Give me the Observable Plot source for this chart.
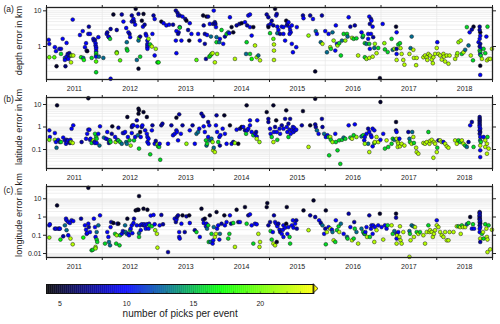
<!DOCTYPE html>
<html><head><meta charset="utf-8">
<script src="https://cdn.jsdelivr.net/npm/d3@7"></script>
<script src="https://cdn.jsdelivr.net/npm/@observablehq/plot@0.6"></script>
<style>
html,body{margin:0;padding:0;background:#fff;}
#chart{width:500px;height:324px;position:relative;}
#chart svg{display:block;overflow:visible;background:transparent;}
</style></head><body><div id="chart"></div>
<script>
// ---- data: [decimal year, error in km, number of picks] ----
const yearTicks = [2011,2012,2013,2014,2015,2016,2017,2018,2019];
const yearLabels = ["2011","2012","2013","2014","2015","2016","2017","2018"];
const pickLabels = [5,10,15,20];
const panelTitles = ["depth error in km","latitude error in km","longitude error in km"];
const panelLetters = ["(a)","(b)","(c)"];

const depthErr = [
[2011.04,1.54,10],[2011.05,1.19,10],[2011.05,0.50,20],[2011.14,0.50,19],
[2011.15,0.96,10],[2011.17,0.74,10],[2011.18,0.28,5],[2011.23,0.86,10],[2011.26,0.86,9],[2011.26,0.62,16],[2011.29,1.64,10],
[2011.33,0.48,13],[2011.33,0.42,10],[2011.34,0.28,7],[2011.36,1.26,10],[2011.36,0.52,10],[2011.38,0.62,10],[2011.39,0.6,10],[2011.41,0.65,8],[2011.42,0.56,10],[2011.43,0.56,11],[2011.44,0.36,22],[2011.45,0.56,21],[2011.47,5.7,10],[2011.48,0.56,22],[2011.39,0.45,10],
[2011.60,2.1,10],[2011.62,0.50,17],[2011.65,2.7,10],[2011.66,0.48,13],[2011.67,0.42,17],
[2011.69,0.96,10],[2011.71,1.24,10],[2011.72,0.77,8],[2011.73,0.74,5],[2011.75,2.26,10],[2011.76,3.6,8],[2011.78,2.26,10],[2011.81,0.48,16],
[2011.84,1.64,10],[2011.85,1.47,10],[2011.87,1.54,8],[2011.88,1.24,10],[2011.88,1.07,10],[2011.89,0.96,10],[2011.89,0.86,10],[2011.89,0.74,10],[2011.89,0.65,16],[2011.89,0.56,16],[2011.89,0.52,10],[2011.89,0.38,19],[2011.89,0.19,16],
[2011.93,1.83,10],[2011.94,0.52,13],
[2012.02,0.48,13],[2012.08,2.26,10],[2012.09,2.5,8],[2012.11,1.9,10],[2012.12,1.83,10],[2012.14,1.64,16],[2012.15,3.1,8],[2012.15,0.125,10],
[2012.20,7.9,5],[2012.26,2.9,8],[2012.26,0.69,19],[2012.26,0.65,21],[2012.32,0.41,19],[2012.35,7.9,8],[2012.38,5.0,10],[2012.43,3.3,10],
[2012.44,1.32,13],[2012.44,0.86,16],[2012.45,0.77,16],[2012.47,2.5,10],[2012.49,2.26,8],[2012.50,1.83,10],[2012.53,5.0,10],[2012.53,7.4,8],[2012.55,5.3,10],[2012.56,5.9,10],[2012.57,5.0,8],[2012.59,4.1,10],[2012.60,11.4,5],[2012.62,0.42,13],[2012.65,8.2,8],[2012.65,1.47,13],[2012.66,1.75,19],[2012.68,0.52,16],[2012.65,0.24,5],[2012.68,1.9,8],[2012.71,5.3,5],[2012.74,8.2,5],[2012.73,3.6,10],[2012.76,4.1,8],[2012.78,2.26,10],[2012.79,2.03,10],[2012.81,1.47,10],[2012.81,1.19,10],[2012.81,1.07,10],[2012.81,0.96,10],[2012.81,0.86,10],[2012.83,1.64,21],[2012.86,1.14,16],[2012.89,1.0,22],[2012.90,2.26,10],[2012.92,7.4,8],[2012.94,5.9,10],[2012.94,0.56,10],[2012.96,0.86,21],[2012.99,0.36,16],[2013.01,0.36,17],
[2013.06,5.0,5],[2013.10,4.5,10],[2013.15,3.9,10],[2013.20,4.1,10],[2013.27,4.1,8],
[2013.32,10.2,8],[2013.35,8.8,8],[2013.36,7.4,10],[2013.39,7.4,8],[2013.37,2.5,10],[2013.39,3.5,10],[2013.33,2.7,10],[2013.36,2.26,8],[2013.32,1.47,10],[2013.33,0.65,10],[2013.39,3.4,16],[2013.42,1.47,10],[2013.44,6.9,10],
[2013.49,5.9,8],[2013.51,5.3,5],[2013.54,2.9,8],[2013.57,4.5,10],[2013.56,1.47,5],[2013.60,2.26,10],
[2013.69,0.42,19],[2013.72,2.26,10],[2013.75,1.47,10],[2013.81,7.4,5],[2013.82,3.9,8],[2013.84,2.26,8],[2013.84,1.19,8],[2013.86,0.45,8],
[2013.87,6.9,5],[2013.88,2.1,10],[2013.90,6.9,8],[2013.93,4.3,10],[2013.92,0.52,16],[2013.94,0.56,17],[2013.96,0.62,19],[2013.98,0.65,22],[2013.95,1.9,13],
[2013.99,4.3,8],[2014.00,10.2,10],[2014.02,4.8,8],[2014.03,4.3,8],[2014.04,3.5,10],[2014.05,1.83,13],[2014.05,1.32,16],[2014.06,0.62,21],[2014.02,0.36,22],[2014.10,1.32,13],[2014.11,1.64,10],[2014.14,2.9,16],[2014.17,1.19,10],[2014.20,1.9,8],[2014.23,2.26,16],[2014.26,2.5,13],[2014.28,2.36,10],[2014.29,6.6,10],[2014.32,3.5,5],[2014.35,2.5,5],[2014.38,0.45,22],[2014.41,3.9,8],[2014.46,4.3,8],[2014.50,4.5,5],[2014.56,4.8,10],[2014.58,0.62,13],[2014.59,1.32,16],[2014.60,3.9,8],[2014.62,7.4,10],
[2014.65,7.9,10],[2014.65,3.5,10],[2014.68,2.03,10],[2014.71,3.5,5],[2014.74,1.07,22],[2014.65,0.62,16],[2014.68,0.45,17],[2014.77,0.5,21],[2014.80,0.56,13],[2014.83,0.41,22],
[2014.95,7.9,8],[2014.98,6.6,8],[2014.98,3.9,10],[2015.01,2.36,16],[2015.02,4.3,10],[2014.98,3.5,5],[2015.04,5.3,8],[2015.07,3.9,8],[2015.07,1.64,19],[2015.08,1.14,22],[2015.08,0.77,22],[2015.08,0.42,22],[2015.10,11.4,5],[2015.12,7.4,10],[2015.13,8.2,8],[2015.14,3.6,10],[2015.14,2.36,13],[2015.16,2.9,10],[2015.19,2.26,8],[2015.22,3.6,10],[2015.25,2.26,10],[2015.25,3.5,10],[2015.28,1.47,10],[2015.30,5.3,5],[2015.31,3.9,10],[2015.32,4.3,8],
[2015.34,4.8,10],[2015.36,3.5,10],[2015.37,2.9,10],[2015.38,2.5,10],[2015.40,3.9,10],[2015.36,2.26,10],[2015.40,1.19,10],[2015.42,0.69,10],[2015.48,0.96,10],[2015.49,3.5,10],
[2015.60,7.4,8],[2015.61,6.2,10],[2015.73,7.4,8],[2015.78,5.9,10],[2015.82,0.2,5],[2015.70,2.03,21],[2015.83,2.7,13],[2015.85,2.26,10],[2015.92,1.32,13],[2015.94,7.4,8],[2015.95,1.19,22],[2016.00,2.7,10],[2016.03,0.69,13],[2016.06,2.26,10],[2016.09,0.96,22],[2016.10,0.86,16],[2016.13,2.5,13],[2016.15,1.47,21],[2016.18,0.77,10],[2016.19,3.9,10],[2016.21,1.19,10],[2016.22,1.07,21],[2016.25,1.24,16],[2016.28,0.56,16],[2016.30,1.47,13],[2016.33,2.26,16],[2016.36,1.47,21],[2016.39,2.26,16],[2016.40,1.9,13],[2016.42,6.6,10],[2016.45,3.6,8],[2016.48,1.75,21],[2016.51,1.64,16],[2016.53,3.9,8],[2016.56,1.7,16],[2016.59,0.56,22],
[2016.65,2.5,10],[2016.67,1.83,13],[2016.68,2.03,16],[2016.71,1.24,16],[2016.74,1.19,13],[2016.77,1.64,10],[2016.79,6.9,10],[2016.80,4.3,8],[2016.82,5.9,8],[2016.83,5.3,10],[2016.85,3.6,10],[2016.77,2.26,10],[2016.82,2.26,10],[2016.86,1.83,8],[2016.88,0.91,13],[2016.89,1.19,21],[2016.79,1.19,16],[2016.80,0.86,10],[2016.71,0.5,16],[2016.74,0.45,21],[2016.79,0.48,22],[2016.85,0.52,22],[2016.92,0.65,22],[2016.95,0.91,16],
[2016.98,0.13,5],[2017.03,4.3,10],[2017.06,1.24,21],[2017.07,0.83,16],[2017.12,0.7,16],[2017.19,1.64,16],[2017.21,0.81,13],[2017.24,0.86,21],[2017.27,3.6,5],[2017.28,2.5,10],[2017.28,0.86,8],[2017.28,0.62,10],[2017.28,0.42,22],[2017.31,1.14,16],[2017.34,1.24,16],[2017.35,0.9,22],[2017.37,0.62,22],[2017.40,0.42,22],[2017.42,0.31,22],
[2017.51,0.62,22],[2017.53,0.9,13],[2017.55,1.9,13],[2017.58,0.81,22],[2017.59,0.48,22],[2017.63,0.3,22],[2017.64,0.48,22],
[2017.76,0.5,22],[2017.79,0.56,22],[2017.82,0.5,22],[2017.83,0.42,22],[2017.85,0.62,22],[2017.88,0.56,22],[2017.91,0.43,22],[2017.93,0.34,22],[2017.94,0.5,22],[2017.97,0.62,22],[2018.00,0.91,22],[2018.01,1.32,10],[2018.03,0.62,22],[2018.06,0.56,22],[2018.09,0.43,22],[2018.12,0.62,22],[2018.13,0.52,22],[2018.15,0.38,22],[2018.18,0.56,22],[2018.21,0.33,22],[2018.23,0.56,22],
[2018.33,0.45,22],[2018.36,0.56,22],[2018.37,0.65,21],[2018.39,1.32,21],[2018.43,1.47,22],[2018.45,0.62,16],[2018.48,0.69,22],[2018.51,0.81,13],[2018.54,3.5,16],[2018.57,1.07,13],[2018.59,2.5,10],[2018.61,0.56,22],[2018.65,0.41,16],[2018.66,3.6,5],[2018.63,3.0,8],
[2018.77,3.6,8],[2018.78,2.5,5],[2018.77,2.9,8],[2018.78,2.0,10],[2018.77,1.64,10],[2018.75,1.32,10],[2018.78,1.19,8],[2018.77,1.0,8],[2018.79,0.86,10],[2018.77,0.77,16],[2018.78,0.69,16],[2018.78,0.6,10],[2018.79,0.56,16],[2018.81,0.45,22],[2018.78,0.29,5],[2018.78,0.16,10],[2018.84,0.86,16],[2018.87,0.65,16],[2018.89,1.9,10],[2018.91,3.6,16],[2018.90,0.41,22],[2018.93,0.45,22],[2018.96,0.45,22],[2018.99,0.86,22]
];

const latErr = [
[2011.05,0.71,10],[2011.06,0.36,10],[2011.05,0.27,20],[2011.15,0.54,10],[2011.15,0.27,21],[2011.17,0.215,10],[2011.18,0.12,13],[2011.19,9.2,5],[2011.21,0.27,10],[2011.24,0.215,8],[2011.26,0.215,16],[2011.30,0.34,10],[2011.33,0.255,10],[2011.35,0.18,10],[2011.36,0.27,8],[2011.37,0.215,10],[2011.39,0.255,10],[2011.42,0.195,8],[2011.43,0.27,10],[2011.44,0.215,21],[2011.45,0.84,10],[2011.48,1.19,10],[2011.47,0.195,22],
[2011.63,0.215,8],[2011.71,0.3,10],[2011.73,0.5,10],[2011.75,0.76,10],[2011.75,19,5],[2011.77,0.76,10],[2011.78,0.27,10],[2011.79,0.3,10],[2011.81,0.195,16],[2011.84,0.255,21],[2011.86,0.215,10],[2011.87,0.5,16],[2011.89,0.36,16],[2011.87,0.195,10],[2011.90,0.3,16],[2011.90,0.195,10],[2011.93,0.5,10],[2011.95,0.15,13],[2011.96,1.07,10],
[2012.03,0.34,13],[2012.07,0.3,10],[2012.09,0.6,10],[2012.11,0.27,10],[2012.12,0.195,8],[2012.14,0.255,16],[2012.15,0.215,16],[2012.17,0.5,8],[2012.18,1.07,5],[2012.23,0.36,10],[2012.24,0.215,21],[2012.27,0.27,10],[2012.29,0.255,16],[2012.29,0.93,8],[2012.32,0.215,16],[2012.35,0.18,13],[2012.37,0.54,10],[2012.39,0.54,10],[2012.41,0.6,10],[2012.43,0.215,13],[2012.44,0.18,13],[2012.45,2.78,5],[2012.46,0.36,10],[2012.49,0.255,16],[2012.51,0.15,21],[2012.53,0.54,10],[2012.53,1.0,8],[2012.54,1.19,8],[2012.56,1.19,10],[2012.57,0.255,16],[2012.59,0.36,10],[2012.62,1.98,8],[2012.63,1.07,10],[2012.64,0.43,13],[2012.65,6.5,5],[2012.65,3.9,5],[2012.66,5.5,5],[2012.66,0.11,16],[2012.68,0.6,5],[2012.69,0.36,10],[2012.71,1.0,8],[2012.72,1.19,10],[2012.74,4.6,5],[2012.77,0.71,10],[2012.80,2.78,5],[2012.80,0.5,10],[2012.81,0.36,10],[2012.81,0.215,10],[2012.83,0.3,10],[2012.83,0.18,10],[2012.86,0.061,16],[2012.89,0.71,10],[2012.90,1.19,8],[2012.94,0.18,10],[2012.96,0.24,8],[2012.99,0.17,21],[2013.00,0.138,16],[2013.02,0.13,16],[2013.03,0.18,10],[2013.04,0.035,16],[2013.06,1.19,8],[2013.08,1.41,8],
[2013.18,0.18,10],[2013.24,1.19,8],[2013.27,0.43,10],[2013.30,0.5,10],[2013.33,0.71,10],[2013.34,0.6,10],[2013.36,0.255,10],[2013.33,2.6,5],[2013.38,3.66,8],[2013.41,0.5,10],[2013.44,1.19,8],[2013.51,0.18,21],[2013.57,0.71,10],[2013.62,1.19,8],[2013.66,0.18,10],[2013.69,0.5,13],[2013.72,0.6,13],[2013.74,0.84,10],
[2013.78,3.9,8],[2013.81,3.0,8],[2013.82,1.07,10],[2013.84,0.6,10],[2013.86,0.255,16],[2013.87,0.15,13],[2013.88,0.18,16],[2013.90,0.36,10],[2013.90,1.67,8],[2013.92,1.19,10],[2013.93,0.255,13],[2013.96,0.3,13],[2013.98,0.215,21],[2013.99,0.092,22],[2014.00,0.12,13],[2014.02,0.077,22],[2014.04,1.19,10],[2014.05,3.3,8],[2014.06,0.6,10],[2014.08,0.215,16],[2014.10,0.36,10],[2014.11,0.15,8],[2014.12,0.43,10],[2014.16,0.84,10],[2014.19,3.3,5],[2014.20,0.5,10],[2014.23,0.18,10],[2014.29,1.19,5],[2014.32,0.18,10],[2014.35,0.215,8],[2014.38,0.195,21],[2014.41,0.76,10],[2014.44,0.18,5],[2014.47,0.84,8],[2014.50,1.0,5],[2014.53,1.0,10],[2014.56,0.71,8],[2014.58,0.5,16],[2014.60,0.71,10],[2014.62,0.84,10],[2014.59,9.2,5],
[2014.65,1.98,10],[2014.65,1.19,10],[2014.68,0.6,10],[2014.71,0.43,16],[2014.74,0.5,10],[2014.77,0.38,10],[2014.77,0.3,22],[2014.78,1.98,10],[2014.82,0.215,21],[2014.76,0.6,8],
[2014.95,4.6,5],[2014.98,2.3,8],[2014.98,1.67,8],[2015.01,0.84,10],[2015.02,0.5,10],[2015.04,0.36,16],[2015.07,0.215,22],[2015.07,9.2,5],[2015.08,0.6,10],[2015.10,1.0,8],[2015.12,1.98,5],[2015.13,0.6,10],[2015.14,0.27,16],[2015.18,0.84,10],[2015.19,0.5,10],[2015.22,1.19,8],[2015.25,0.84,10],[2015.28,2.3,8],[2015.30,5.5,5],[2015.31,1.0,10],[2015.32,0.6,10],[2015.34,1.41,8],[2015.34,0.36,16],[2015.36,0.76,10],[2015.37,2.3,8],[2015.38,0.5,10],[2015.40,0.71,10],[2015.42,1.0,10],[2015.43,0.6,10],[2015.44,0.93,10],[2015.46,0.71,10],[2015.48,0.76,10],[2015.60,5.1,5],[2015.58,1.19,8],[2015.70,0.13,22],[2015.73,1.19,5],[2015.82,18,5],[2015.82,1.31,8],[2015.83,1.0,8],[2015.85,0.71,13],[2015.88,0.5,10],[2015.94,2.3,8],[2015.95,1.0,8],[2015.98,0.5,13],[2016.01,0.36,10],[2016.04,0.43,10],[2016.06,0.36,16],[2016.09,0.36,22],[2016.10,0.27,16],[2016.07,0.055,16],[2016.13,0.215,21],[2016.18,0.5,10],[2016.19,0.215,16],[2016.22,0.092,16],[2016.25,0.255,16],[2016.27,0.023,16],[2016.30,0.27,16],[2016.33,0.34,13],[2016.36,0.3,16],[2016.42,1.19,10],[2016.45,0.34,16],[2016.48,0.3,22],[2016.51,0.43,16],[2016.53,1.31,10],[2016.56,0.36,21],
[2016.65,0.38,13],[2016.68,0.43,16],[2016.70,0.255,10],[2016.71,0.36,10],[2016.74,0.5,10],[2016.77,0.84,8],[2016.79,0.6,10],[2016.82,0.43,10],[2016.83,0.36,10],[2016.85,0.84,10],[2016.88,0.71,10],[2016.77,0.18,13],[2016.79,0.077,22],[2016.71,0.18,21],[2016.85,0.138,10],[2016.88,0.195,16],[2016.89,0.215,22],[2016.92,0.36,22],[2016.95,0.215,22],[2016.99,0.27,10],[2016.99,12.9,5],
[2017.04,0.5,10],[2017.07,0.11,16],[2017.10,0.255,22],[2017.13,0.13,16],[2017.19,0.18,16],[2017.21,0.3,16],[2017.24,0.27,13],[2017.27,1.67,5],[2017.27,0.71,8],[2017.28,0.6,10],[2017.28,0.3,22],[2017.30,0.215,22],[2017.31,0.18,22],[2017.30,0.13,22],[2017.33,0.3,10],[2017.34,0.138,22],[2017.37,0.18,22],[2017.42,0.15,22],
[2017.49,0.6,8],[2017.51,0.3,13],[2017.52,0.215,16],[2017.55,0.18,22],[2017.56,0.6,13],[2017.58,0.36,22],[2017.59,0.195,16],[2017.63,0.12,22],[2017.64,0.077,22],[2017.67,0.065,22],[2017.76,0.195,22],[2017.79,0.18,22],[2017.82,0.215,22],[2017.85,0.6,16],[2017.87,0.18,22],[2017.88,0.24,22],[2017.91,0.27,22],[2017.94,0.043,22],[2017.95,0.215,22],[2017.97,0.18,22],[2018.00,0.077,22],[2018.01,0.12,16],[2018.03,0.255,8],[2018.06,0.255,22],[2018.09,0.215,22],[2018.12,0.215,10],[2018.15,0.18,22],[2018.18,0.138,22],[2018.21,0.12,22],
[2018.33,0.255,22],[2018.36,0.18,22],[2018.39,0.255,16],[2018.42,0.215,16],[2018.45,0.255,22],[2018.48,0.18,22],[2018.51,0.15,16],[2018.54,0.13,13],[2018.57,0.215,8],[2018.60,1.19,10],[2018.63,1.67,8],[2018.66,0.13,16],
[2018.77,2.78,8],[2018.77,2.3,7],[2018.77,1.98,8],[2018.77,1.67,7],[2018.77,1.41,8],[2018.77,1.19,8],[2018.77,1.0,10],[2018.78,0.84,10],[2018.77,0.71,10],[2018.78,0.6,7],[2018.77,0.5,8],[2018.78,0.36,10],[2018.78,0.255,13],[2018.79,0.215,16],[2018.78,0.15,22],[2018.78,0.092,10],[2018.78,0.046,10],[2018.84,0.36,10],[2018.87,0.255,22],[2018.87,0.13,22],[2018.90,0.18,22],[2018.91,0.36,16],[2018.93,0.11,22],[2018.90,0.065,22]
];

const lonErr = [
[2011.05,0.35,10],[2011.06,0.4,10],[2011.05,0.075,21],[2011.15,0.23,10],[2011.17,0.23,10],[2011.19,4.3,5],[2011.21,0.23,10],[2011.23,0.23,10],[2011.24,0.23,10],[2011.25,0.058,17],[2011.30,0.088,8],[2011.33,0.35,13],[2011.35,0.81,10],[2011.36,0.66,10],[2011.36,0.19,13],[2011.39,0.1,10],[2011.39,0.53,10],[2011.42,0.47,10],[2011.43,0.066,22],[2011.45,0.66,10],[2011.47,0.032,22],[2011.48,0.6,10],
[2011.62,0.81,8],[2011.66,0.075,17],[2011.69,0.35,10],[2011.71,0.2,10],[2011.72,0.12,10],[2011.73,0.13,10],[2011.75,0.43,10],[2011.75,40,5],[2011.76,0.28,8],[2011.78,0.15,10],[2011.81,0.015,16],[2011.83,0.016,16],[2011.85,0.81,10],[2011.87,0.28,10],[2011.88,0.081,10],[2011.88,0.023,21],[2011.88,0.019,21],[2011.90,0.058,16],[2011.90,0.15,13],[2011.91,0.043,16],[2011.93,0.35,13],[2011.96,1.23,10],
[2012.05,0.035,16],[2012.09,0.15,10],[2012.11,0.081,10],[2012.12,0.043,13],[2012.14,0.028,13],[2012.15,0.28,10],[2012.16,0.53,8],[2012.20,0.47,5],[2012.23,0.12,16],[2012.25,0.035,16],[2012.26,0.1,21],[2012.27,0.43,10],[2012.29,0.43,5],[2012.31,0.028,16],[2012.32,0.1,16],[2012.35,0.12,10],[2012.37,0.17,10],[2012.39,0.15,10],[2012.41,0.35,13],[2012.42,0.15,13],[2012.44,0.12,13],[2012.45,0.81,5],[2012.47,0.12,10],[2012.48,0.1,10],[2012.50,0.19,16],[2012.51,0.23,10],[2012.53,0.35,10],[2012.54,0.13,10],[2012.56,0.47,10],[2012.57,0.81,8],[2012.60,2.3,5],[2012.62,0.35,10],[2012.63,2.5,5],[2012.65,2.5,5],[2012.66,14,5],[2012.66,0.13,13],[2012.66,0.081,16],[2012.68,0.35,10],[2012.69,0.19,10],[2012.71,0.4,10],[2012.74,2.85,5],[2012.74,0.35,8],[2012.75,0.4,10],[2012.77,0.35,10],[2012.78,0.23,10],[2012.80,0.4,10],[2012.81,2.5,5],[2012.83,0.23,10],[2012.84,0.43,10],[2012.85,0.35,16],[2012.87,1.2,10],[2012.89,0.31,16],[2012.92,1.3,10],[2012.94,0.4,10],[2012.95,0.19,21],[2012.98,0.12,22],[2012.99,0.021,22],[2013.03,0.35,10],[2013.06,1.3,8],[2013.09,0.4,8],
[2013.18,0.012,8],[2013.30,0.81,10],[2013.32,0.53,8],[2013.33,0.72,10],[2013.34,1.0,8],[2013.36,1.23,8],[2013.38,0.15,10],[2013.38,0.081,10],[2013.39,0.066,10],[2013.42,0.43,10],[2013.44,1.23,5],[2013.48,0.15,8],[2013.51,1.09,8],[2013.56,1.23,5],[2013.57,0.47,10],[2013.66,0.19,8],[2013.69,0.15,16],[2013.75,0.081,10],
[2013.78,2.85,5],[2013.81,0.72,8],[2013.82,0.47,10],[2013.84,0.81,5],[2013.86,0.31,10],[2013.87,0.43,10],[2013.88,0.23,13],[2013.90,0.35,16],[2013.91,0.043,16],[2013.93,1.23,5],[2013.94,0.043,13],[2013.96,0.12,16],[2013.98,0.035,10],[2013.99,0.053,10],[2014.00,0.28,13],[2014.02,0.081,22],[2014.04,0.12,22],[2014.05,1.87,5],[2014.06,0.23,10],[2014.08,0.35,10],[2014.10,0.058,10],[2014.11,0.12,13],[2014.14,0.43,8],[2014.19,1.23,5],[2014.20,0.35,10],[2014.23,0.53,10],[2014.26,0.066,16],[2014.28,0.12,16],[2014.29,1.23,10],[2014.31,0.43,8],[2014.35,0.47,16],[2014.38,0.023,22],[2014.41,2.5,5],[2014.44,0.53,8],[2014.47,0.53,10],[2014.56,3.5,5],[2014.59,0.43,16],[2014.62,1.23,8],
[2014.65,1.4,10],[2014.68,0.35,10],[2014.71,0.035,16],[2014.74,0.43,10],[2014.77,0.4,10],[2014.80,0.12,22],[2014.83,0.043,22],[2014.82,0.023,22],
[2014.95,3.5,5],[2014.96,5.8,5],[2014.98,0.35,8],[2015.01,0.53,8],[2015.02,0.17,16],[2015.04,0.058,16],[2015.06,0.15,10],[2015.07,0.035,22],[2015.08,1.23,8],[2015.10,0.028,22],[2015.10,0.53,10],[2015.12,0.43,10],[2015.13,0.043,5],[2015.14,0.31,10],[2015.16,0.43,8],[2015.18,0.2,10],[2015.19,0.15,8],[2015.22,0.12,10],[2015.24,0.2,10],[2015.25,0.081,10],[2015.25,0.35,10],[2015.28,0.26,10],[2015.30,0.43,5],[2015.31,3.5,5],[2015.34,0.28,10],[2015.32,0.12,10],[2015.36,0.081,16],[2015.37,0.035,16],[2015.40,0.35,10],[2015.42,0.66,10],[2015.43,0.26,10],[2015.46,0.43,10],[2015.48,0.66,8],[2015.49,0.23,8],
[2015.61,2.3,5],[2015.70,0.19,22],[2015.73,1.23,8],[2015.79,8.1,5],[2015.82,1.0,8],[2015.89,0.66,10],[2015.92,0.47,8],[2015.95,0.35,13],[2015.98,0.12,10],[2016.00,0.23,8],[2016.01,2.3,5],[2016.03,0.15,22],[2016.01,0.032,16],[2016.06,0.28,10],[2016.09,0.23,22],[2016.12,0.2,10],[2016.13,0.15,13],[2016.15,0.053,22],[2016.18,0.043,16],[2016.19,0.66,10],[2016.21,0.19,16],[2016.24,0.31,16],[2016.25,0.15,22],[2016.28,0.43,13],[2016.33,0.12,10],[2016.39,0.081,13],[2016.40,0.066,16],[2016.42,1.52,8],[2016.45,0.28,10],[2016.48,0.053,22],[2016.51,0.066,16],[2016.52,0.53,8],[2016.53,0.23,16],[2016.56,0.15,13],[2016.59,0.035,22],
[2016.65,0.23,13],[2016.68,0.15,16],[2016.70,0.12,13],[2016.71,0.12,16],[2016.72,0.15,10],[2016.75,0.081,22],[2016.74,0.28,10],[2016.79,1.23,8],[2016.80,0.081,16],[2016.82,0.23,10],[2016.83,0.35,10],[2016.85,0.12,10],[2016.86,0.35,10],[2016.88,0.043,22],[2016.89,0.28,10],[2016.92,0.19,22],[2016.95,0.35,10],[2016.98,1.52,5],[2017.01,0.28,10],[2017.04,0.058,22],[2017.07,0.35,10],[2017.10,0.23,10],[2017.12,0.35,16],[2017.19,0.35,22],[2017.21,0.12,16],[2017.24,0.17,13],[2017.27,1.52,5],[2017.27,0.92,8],[2017.28,0.12,10],[2017.28,0.066,10],[2017.28,0.035,22],[2017.29,0.1,22],[2017.33,0.081,22],[2017.31,0.15,10],[2017.34,0.31,22],[2017.35,0.053,22],[2017.37,0.035,22],[2017.40,0.15,22],
[2017.51,0.17,13],[2017.52,0.12,16],[2017.53,0.053,22],[2017.55,0.35,13],[2017.58,0.31,13],[2017.59,0.081,22],[2017.61,0.28,22],[2017.51,0.0066,22],[2017.64,0.15,16],[2017.67,0.12,22],[2017.70,0.15,16],[2017.76,0.1,22],[2017.79,0.035,22],[2017.82,0.15,22],[2017.85,0.35,16],[2017.87,0.15,22],[2017.88,0.19,22],[2017.91,0.15,22],[2017.93,0.081,22],[2017.95,0.12,22],[2017.97,0.19,22],[2018.00,0.66,10],[2018.00,0.35,22],[2018.03,0.28,22],[2018.06,0.15,22],[2018.09,0.1,22],[2018.12,0.081,22],[2018.15,0.15,22],[2018.18,0.053,22],[2018.21,0.053,22],[2018.23,0.15,22],
[2018.30,0.15,22],[2018.36,0.31,22],[2018.39,0.31,16],[2018.42,0.28,22],[2018.43,0.12,22],[2018.45,0.35,16],[2018.47,0.28,22],[2018.51,0.28,22],[2018.54,0.4,13],[2018.57,0.47,16],[2018.60,1.0,5],[2018.63,0.23,10],[2018.65,0.4,16],[2018.67,0.23,10],
[2018.77,1.87,8],[2018.77,1.7,7],[2018.77,1.52,10],[2018.77,1.23,8],[2018.77,1.1,10],[2018.77,0.92,8],[2018.77,0.8,7],[2018.77,0.72,8],[2018.78,0.6,10],[2018.77,0.53,10],[2018.78,0.45,7],[2018.77,0.35,8],[2018.78,0.28,10],[2018.77,0.23,10],[2018.77,0.15,10],[2018.78,0.066,22],[2018.78,0.043,8],[2018.81,0.12,16],[2018.83,0.15,22],[2018.84,0.066,16],[2018.87,0.4,16],[2018.89,0.23,22],[2018.90,0.081,22],[2018.91,0.058,22],[2018.93,0.35,16],[2018.91,0.012,22],[2018.96,0.017,22],[2018.99,0.2,22]
];

// colour map for number of picks
const pickStops = [4, 10, 17, 24];
const pickColors = ["#000000", "#0000ff", "#00ff00", "#ffff00"];

const FONT = "Liberation Sans, Arial, Helvetica, sans-serif";
const colorScale = {type: "linear", domain: pickStops, range: pickColors, interpolate: "rgb", clamp: true};
const midYears = yearLabels.map(s => +s + 0.5);

function minorTicks(domain) {
  const out = [];
  for (let e = -3; e <= 2; e++) for (let k = 1; k <= 9; k++) {
    const v = k * Math.pow(10, e);
    if (v > domain[0] && v < domain[1]) out.push(+v.toPrecision(3));
  }
  return out;
}

function panel(data, idx, domain, majors, height, mt, mb, titleDy, letterDy) {
  return Plot.plot({
    width: 500, height, marginTop: mt, marginBottom: mb, marginLeft: 46, marginRight: 8,
    style: {background: "transparent", overflow: "visible", fontFamily: FONT, fontSize: "7px", color: "#222"},
    x: {domain: [2011, 2019]},
    y: {type: "log", domain},
    color: colorScale,
    marks: [
      Plot.ruleY(minorTicks(domain), {stroke: "#e4e4e4", strokeWidth: 0.6}),
      Plot.ruleX(yearTicks, {stroke: "#e4e4e4", strokeWidth: 0.6}),
      Plot.axisX(yearTicks, {anchor: "bottom", tickSize: 3, tickFormat: () => "", label: null}),
      Plot.axisX(yearTicks, {anchor: "top", tickSize: 3, tickFormat: () => "", label: null}),
      Plot.axisX(midYears, {anchor: "bottom", tickSize: 0, tickPadding: 7, tickFormat: d => yearLabels[Math.floor(d) - 2011], label: null}),
      Plot.axisY(majors, {anchor: "left", tickSize: 3, tickPadding: 2, tickFormat: d => String(d), label: null}),
      Plot.axisY(majors, {anchor: "right", tickSize: 3, tickFormat: () => "", label: null}),
      Plot.dot(data, {x: d => d[0], y: d => d[1], fill: d => d[2], r: 1.9, stroke: "#1a1a1a", strokeWidth: 0.5, clip: false}),
      Plot.frame({stroke: "#222", strokeWidth: 1.3}),
      Plot.text([panelTitles[idx]], {frameAnchor: "left", textAnchor: "middle", rotate: -90, dx: -27, dy: titleDy, fontSize: 9.2, fill: "#222"}),
      Plot.text([panelLetters[idx]], {frameAnchor: "top-left", dx: -43, dy: letterDy, textAnchor: "start", lineAnchor: "top", fontSize: 8.5, fill: "#222"})
    ]
  });
}

const root = document.getElementById("chart");
root.append(panel(depthErr, 0, [0.119, 12.4], [1, 10], 96, 7, 17, -3, -2));
root.append(panel(latErr, 1, [0.0143, 20.5], [0.1, 1, 10], 89, 1, 17, -6, -1.5));
root.append(panel(lonErr, 2, [0.00605, 46.9], [0.01, 0.1, 1, 10], 90, 1, 18, -7, 0));

// colour bar
const rampStep = 0.05;
const ramp = d3.range(pickStops[0], pickStops[pickStops.length - 1], rampStep);
const bar = Plot.plot({
  width: 500, height: 49, marginTop: 9, marginBottom: 31, marginLeft: 46, marginRight: 186.7,
  style: {background: "transparent", overflow: "visible", fontFamily: FONT, fontSize: "7px", color: "#222"},
  x: {domain: [4, 24]},
  y: {domain: [0, 1], axis: null},
  color: colorScale,
  marks: [
    Plot.rect(ramp, {x1: d => d, x2: d => d + rampStep * 1.3, y1: 0, y2: 1, fill: d => d + rampStep / 2}),
    Plot.area([{x: 24, a: 0, b: 1}, {x: 24.35, a: 0.5, b: 0.5}], {x1: "x", y1: "a", y2: "b", fill: "#ffff00", stroke: "#111", strokeWidth: 0.8, clip: false}),
    Plot.frame({stroke: "#111", strokeWidth: 1}),
    Plot.ruleX(d3.range(5, 24), {y1: 0, y2: 0.18, stroke: "#333", strokeWidth: 0.5}),
    Plot.axisX(pickLabels, {anchor: "bottom", tickSize: 0, tickPadding: 8, label: null}),
    Plot.text(["number of picks per event"], {frameAnchor: "bottom", dy: 23, fontSize: 10, fill: "#222"})
  ]
});
root.append(bar);
</script></body></html>
